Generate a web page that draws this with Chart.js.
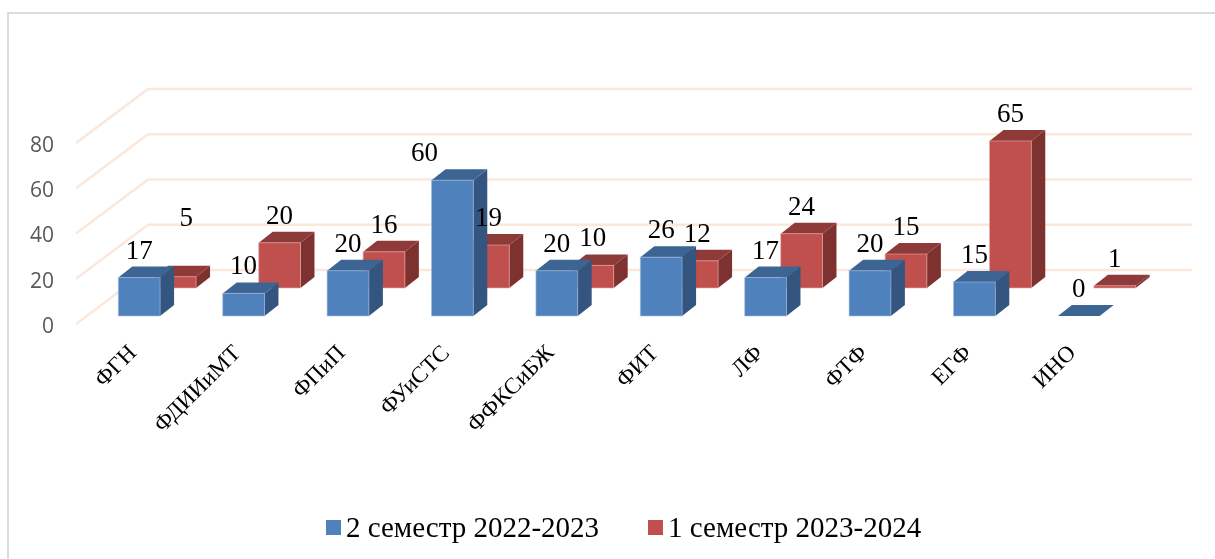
<!DOCTYPE html>
<html lang="ru">
<head>
<meta charset="utf-8">
<title>Chart</title>
<script src="https://cdn.jsdelivr.net/npm/chart.js@4"></script>
<style>
    html, body { margin: 0; padding: 0; background: #fff; overflow: hidden; }
    #wrap { position: relative; width: 1215px; height: 559px; overflow: hidden; }
    #frame { position: absolute; left: 7px; top: 12px; width: 1300px; height: 700px; border: 2px solid #dcdcdc; }
    #chart { position: absolute; left: 0; top: 0; }
    #legend { position: absolute; left: 326px; top: 508px; display: flex; font: 29px "Liberation Serif", serif; color: #000; white-space: nowrap; }
    .legend-item { display: flex; align-items: center; height: 38px; margin-right: 49px; }
    .legend-box { width: 15px; height: 15px; margin-right: 5px; }
</style>
</head>
<body>
<div id="wrap">
    <div id="frame"></div>
    <canvas id="chart" width="1215" height="559"></canvas>
    <div id="legend"></div>
</div>
<script>
// Chart data
const categories = ['ФГН', 'ФДИИиМТ', 'ФПиП', 'ФУиСТС', 'ФФКСиБЖ', 'ФИТ', 'ЛФ', 'ФТФ', 'ЕГФ', 'ИНО'];
const seriesNames = ['2 семестр 2022-2023', '1 семестр 2023-2024'];
const semester2 = [17, 10, 20, 60, 20, 26, 17, 20, 15, 0];
const semester1 = [5, 20, 16, 19, 10, 12, 24, 15, 65, 1];
const yTicks = [0, 20, 40, 60, 80];

// Face colours for the fake 3D boxes
const faces = [
    { front: '#4F81BD', top: '#3D6594', side: '#335580', edge: 'rgba(160, 190, 225, 0.6)' },
    { front: '#C0504D', top: '#8E3A38', side: '#7D3230', edge: 'rgba(230, 170, 168, 0.6)' }
];

// How far each series sits behind the front plane of the chart box
const floorDepth = { x: 72, y: -54 };
const seriesPlane = [{ x: 11, y: -8 }, { x: 47, y: -36 }];
const boxDepth = { x: 14, y: -11 };

// A few value labels were dragged away from their bar in the original
const labelNudge = { '0:3': [-28, 0], '1:0': [11, -32] };

function fillPoly(ctx, color, pts) {
    ctx.fillStyle = color;
    ctx.beginPath();
    ctx.moveTo(pts[0][0], pts[0][1]);
    for (let i = 1; i < pts.length; i++) {
        ctx.lineTo(pts[i][0], pts[i][1]);
    }
    ctx.closePath();
    ctx.fill();
}

// Bar controller that draws each element as a box, still placed by the chart's scales
class Bar3dController extends Chart.BarController {
    draw() {
        const ctx = this.chart.ctx;
        const index = this.index;
        const plane = seriesPlane[index];
        const face = faces[index];
        ctx.save();
        this.getMeta().data.forEach(bar => {
            const { x, y, base, width } = bar.getProps(['x', 'y', 'base', 'width'], true);
            const left = x - width / 2 + plane.x;
            const right = x + width / 2 + plane.x;
            const top = y + plane.y;
            const bottom = base + plane.y;
            const dx = boxDepth.x;
            const dy = boxDepth.y;
            fillPoly(ctx, face.side, [[right, top], [right + dx, top + dy], [right + dx, bottom + dy], [right, bottom]]);
            fillPoly(ctx, face.top, [[left, top], [left + dx, top + dy], [right + dx, top + dy], [right, top]]);
            if (bottom - top > 0.5) {
                fillPoly(ctx, face.front, [[left, top], [right, top], [right, bottom], [left, bottom]]);
                ctx.strokeStyle = face.edge;
                ctx.lineWidth = 1;
                ctx.strokeRect(left, top, right - left, bottom - top);
            }
        });
        ctx.restore();
    }
}
Bar3dController.id = 'bar3d';
Bar3dController.defaults = Chart.BarController.defaults;
Chart.register(Bar3dController);

// Gridlines run from the front plane to the back wall, then along the wall
const depthGrid = {
    id: 'depthGrid',
    beforeDatasetsDraw(chart) {
        const { ctx, chartArea, scales } = chart;
        ctx.save();
        ctx.strokeStyle = '#FBE8DB';
        ctx.lineWidth = 2.5;
        yTicks.forEach(value => {
            const y = scales.y.getPixelForValue(value);
            ctx.beginPath();
            ctx.moveTo(chartArea.left, y);
            ctx.lineTo(chartArea.left + floorDepth.x, y + floorDepth.y);
            ctx.lineTo(chartArea.right + floorDepth.x, y + floorDepth.y);
            ctx.stroke();
        });
        ctx.restore();
    }
};

// Value labels above each box
const valueLabels = {
    id: 'valueLabels',
    afterDatasetsDraw(chart) {
        const ctx = chart.ctx;
        ctx.save();
        ctx.font = '27px "Liberation Serif", serif';
        ctx.fillStyle = '#000';
        ctx.textAlign = 'center';
        ctx.textBaseline = 'middle';
        chart.data.datasets.forEach((dataset, s) => {
            chart.getDatasetMeta(s).data.forEach((bar, i) => {
                const nudge = labelNudge[s + ':' + i] || [0, 0];
                const x = bar.x + seriesPlane[s].x + nudge[0];
                const y = bar.y + seriesPlane[s].y - 26 + nudge[1];
                ctx.fillText(String(dataset.data[i]), x, y);
            });
        });
        ctx.restore();
    }
};

const chart = new Chart(document.getElementById('chart').getContext('2d'), {
    type: 'bar3d',
    data: {
        labels: categories,
        datasets: [
            { label: seriesNames[0], data: semester2, backgroundColor: faces[0].front },
            { label: seriesNames[1], data: semester1, backgroundColor: faces[1].front }
        ]
    },
    options: {
        responsive: false,
        animation: false,
        grouped: false,
        clip: false,
        barPercentage: 0.4,
        categoryPercentage: 1,
        layout: { padding: { top: 143, right: 95, left: 0, bottom: 0 } },
        plugins: {
            legend: { display: false },
            tooltip: { enabled: false }
        },
        scales: {
            x: {
                grid: { display: false },
                border: { display: false },
                afterFit(scale) { scale.height = 235; },
                ticks: {
                    autoSkip: false,
                    minRotation: 45,
                    maxRotation: 45,
                    padding: 8,
                    labelOffset: 5,
                    color: '#000',
                    font: { family: '"Liberation Serif", serif', size: 23 }
                }
            },
            y: {
                min: 0,
                max: 80,
                grid: { display: false, drawTicks: false },
                border: { display: false },
                afterFit(scale) { scale.width = 76; },
                ticks: {
                    stepSize: 20,
                    padding: 22,
                    labelOffset: 3,
                    color: '#595959',
                    font: { family: '"Open Sans", sans-serif', size: 21 }
                }
            }
        }
    },
    plugins: [depthGrid, valueLabels]
});

// Legend built from the chart's datasets
const legendEl = document.getElementById('legend');
chart.data.datasets.forEach(dataset => {
    const item = document.createElement('div');
    item.className = 'legend-item';
    const box = document.createElement('span');
    box.className = 'legend-box';
    box.style.background = dataset.backgroundColor;
    item.appendChild(box);
    item.appendChild(document.createTextNode(dataset.label));
    legendEl.appendChild(item);
});
</script>
</body>
</html>
